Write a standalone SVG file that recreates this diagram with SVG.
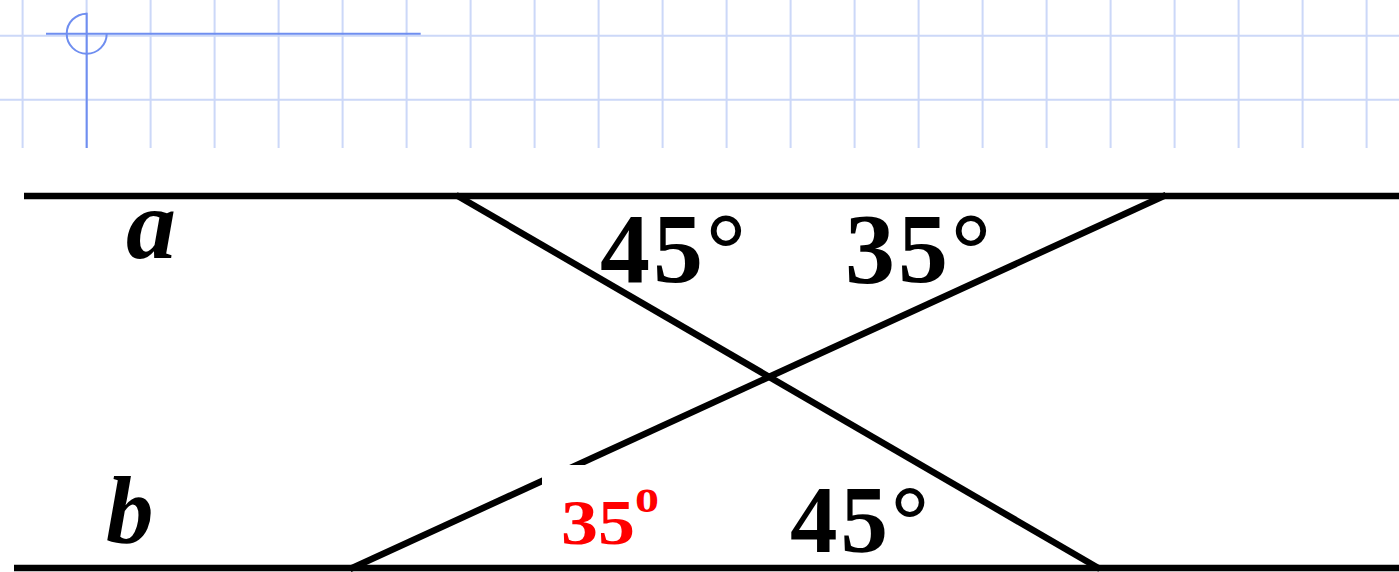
<svg xmlns="http://www.w3.org/2000/svg" width="1399" height="572" viewBox="0 0 1399 572">
  <style>
    .grid { stroke: #ccd8f8; stroke-width: 2; fill: none; }
    .mark { stroke: #6f8ef0; stroke-width: 2; fill: none; }
    .ln { stroke: #000; stroke-width: 6.5; fill: none; }
    .lab { font-family: "Liberation Serif", "Times New Roman", serif; fill: #000; font-weight: bold; }
    .it { font-style: italic; }
    .red { font-family: "Liberation Serif", "Times New Roman", serif; font-weight: bold; fill: #ff0000; }
  </style>
  <rect x="0" y="0" width="1399" height="572" fill="#ffffff"/>
  <g id="grid">
    <path class="grid" d="M22.6 0V148M86.6 0V148M150.6 0V148M214.6 0V148M278.6 0V148M342.6 0V148M406.6 0V148M470.6 0V148M534.6 0V148M598.6 0V148M662.6 0V148M726.6 0V148M790.6 0V148M854.6 0V148M918.6 0V148M982.6 0V148M1046.6 0V148M1110.6 0V148M1174.6 0V148M1238.6 0V148M1302.6 0V148M1366.6 0V148"/>
    <path class="grid" d="M0 35.7H1399M0 99.7H1399"/>
  </g>
  <g id="corner-mark">
    <path class="mark" d="M46 33.7H420.7M86.7 12.7V148"/>
    <path class="mark" d="M86.7 13.7A20 20 0 1 0 106.7 33.7"/>
  </g>
  <g id="connectors">
    <line id="line-a" class="ln" x1="24" y1="196" x2="1399" y2="196"/>
    <line id="line-b" class="ln" x1="14" y1="568" x2="1399" y2="568"/>
    <line id="transversal-1" class="ln" x1="456" y1="195" x2="1100" y2="569"/>
    <line id="transversal-2" class="ln" x1="1166" y1="195" x2="350" y2="569"/>
  </g>
  <rect id="mask" x="542" y="465" width="140" height="97" fill="#ffffff"/>
  <g id="label-a"><text class="lab it" x="126" y="258" font-size="100">a</text></g>
  <g id="label-b"><text class="lab it" x="106" y="542" font-size="95">b</text></g>
  <g id="angle-top-45"><text class="lab" x="600" y="282" font-size="100" letter-spacing="3">45°</text></g>
  <g id="angle-top-35"><text class="lab" x="845" y="282" font-size="100" letter-spacing="3">35°</text></g>
  <g id="angle-bottom-45"><text class="lab" x="790" y="552" font-size="95" letter-spacing="3">45°</text></g>
  <g id="angle-red-35">
    <text class="red" x="561" y="544" font-size="64" textLength="74" lengthAdjust="spacingAndGlyphs">35</text>
    <text class="red" x="635" y="512" font-size="48">o</text>
  </g>
</svg>
